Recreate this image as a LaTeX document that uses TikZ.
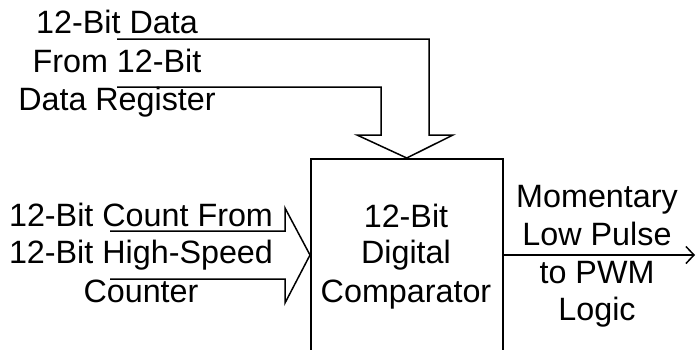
\documentclass[tikz,border=0pt]{standalone}
\usepackage{fontspec}
\setmainfont{Liberation Sans}
\usetikzlibrary{arrows.meta}
\begin{document}
\begin{tikzpicture}[x=1pt,y=-1pt,
  wire/.style={line width=1.5pt, line join=miter},
  lbl/.style={anchor=base, inner sep=0pt, font=\fontsize{32.3}{37.5}\selectfont}]
\clip (0,0) rectangle (696,349);
% comparator box (bottom cut off by the picture edge)
\node[draw, wire, anchor=north west, inner sep=0pt, minimum width=192pt, minimum height=230pt] (cmp) at (310,158) {};
% top wide arrow (12-bit data)
\coordinate (da) at (117,39);
\coordinate (db) at (117,87);
\coordinate (dtip) at (cmp.north);
\draw[wire] (da) -- (429,39) -- (429,135) -- (453,135) -- (dtip) -- (357,135) -- (381,135) -- (381,87) -- (db);
% left wide arrow (12-bit count)
\coordinate (ca) at (110,231);
\coordinate (cb) at (110,279);
\coordinate (ctip) at (cmp.north west |- 0,255);
\draw[wire] (ca) -- (285,231) -- (285,208) -- (ctip) -- (285,303) -- (285,279) -- (cb);
% output arrow
\coordinate (oa) at (cmp.north east |- 0,255);
\coordinate (ob) at (695,255);
\draw[wire, -{Straight Barb[length=8pt,width=17pt,line width=1.5pt]}] (oa) -- (ob);
% texts
\node[lbl] (t1) at (117,33) {12-Bit Data};
\node[lbl] (t2) at (117,72.5) {From 12-Bit};
\node[lbl] (t3) at (117,110) {Data Register};
\node[lbl] (l1) at (141,226) {12-Bit Count From};
\node[lbl] (l2) at (141,263) {12-Bit High-Speed};
\node[lbl] (l3) at (141,302) {Counter};
\node[lbl] (b1) at (406,227) {12-Bit};
\node[lbl] (b2) at (406,263) {Digital};
\node[lbl] (b3) at (406,302) {Comparator};
\node[lbl] (r1) at (597,207) {Momentary};
\node[lbl] (r2) at (597,245) {Low Pulse};
\node[lbl] (r3) at (597,283) {to PWM};
\node[lbl] (r4) at (597,320) {Logic};
\end{tikzpicture}
\end{document}
